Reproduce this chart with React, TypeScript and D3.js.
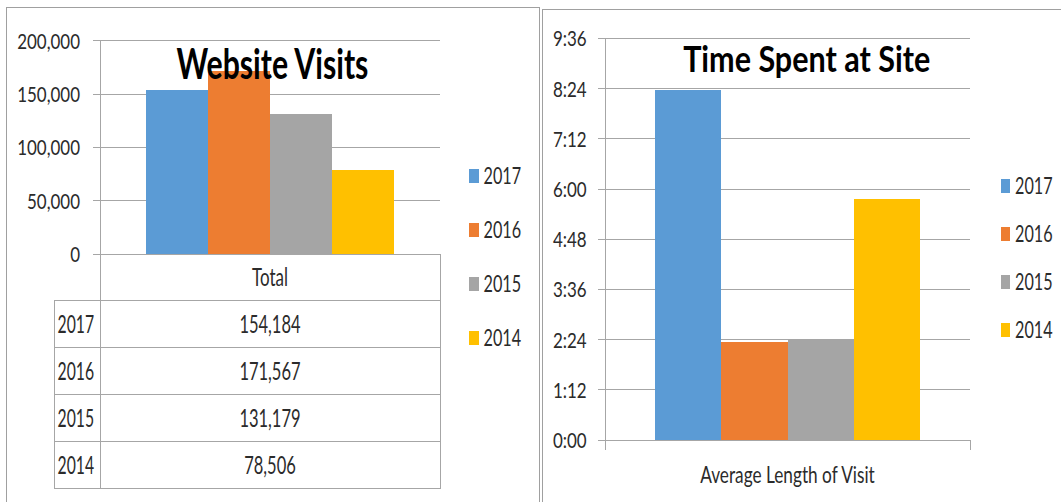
import React from "react";
import * as d3 from "d3";

// ---------- DATA ----------
const years = ["2017", "2016", "2015", "2014"];
const visitCategory = "Total";
const visitValues = [154184, 171567, 131179, 78506];
const visitTicks = [0, 50000, 100000, 150000, 200000];
const timeCategory = "Average Length of Visit";
// average visit length in seconds (m:ss)
const timeValues = [502, 141, 145, 346];
const timeTicks = [0, 72, 144, 216, 288, 360, 432, 504, 576];
const colors = ["#5B9BD5", "#ED7D31", "#A5A5A5", "#FFC000"];
const titleVisits = "Website Visits";
const titleTime = "Time Spent at Site";

const FONT = "Lato, 'Open Sans', sans-serif";
const TXT = "#2b2b2b";
const GRID = "#A6A6A6";
const BORDER = "#A0A0A0";

type TP = {
  x: number;
  y: number;
  sx: number;
  size: number;
  anchor?: "start" | "middle" | "end";
  weight?: string | number;
  fill?: string;
  children: React.ReactNode;
};
const T = ({ x, y, sx, size, anchor = "start", weight = 400, fill = TXT, children }: TP) => (
  <text
    transform={`translate(${x},${y}) scale(${sx},1)`}
    textAnchor={anchor}
    fontSize={size}
    fontWeight={weight}
    fontFamily={FONT}
    fill={fill}
  >
    {children}
  </text>
);

const fmtTime = (s: number) => `${Math.floor(s / 60)}:${String(Math.round(s % 60)).padStart(2, "0")}`;
const fmtNum = d3.format(",");

function seriesScale(x0: number, x1: number) {
  const barW = (x1 - x0) / (years.length + 1.5);
  return d3.scaleBand<string>().domain(years).range([x0 + 0.75 * barW, x1 - 0.75 * barW]).padding(0);
}

function Legend({ x, y0, step }: { x: number; y0: number; step: number }) {
  return (
    <g>
      {years.map((yr, i) => {
        const cy = y0 + i * step;
        return (
          <g key={yr}>
            <rect x={x} y={cy - 7} width={9.5} height={14} fill={colors[i]} />
            <T x={x + 14.5} y={cy + 8} sx={0.72} size={22.5}>
              {yr}
            </T>
          </g>
        );
      })}
    </g>
  );
}

function VisitsChart() {
  const px0 = 100, px1 = 440;
  const y = d3.scaleLinear().domain([0, 200000]).range([254, 40.7]);
  const xCat = d3.scaleBand<string>().domain([visitCategory]).range([px0, px1]);
  const xs = seriesScale(xCat(visitCategory)!, xCat(visitCategory)! + xCat.bandwidth());
  const rowH = 47;
  const headBot = 300.7;
  const tableLeft = 54.3;
  const tableBottom = headBot + rowH * years.length;
  return (
    <g>
      <path d={`M6.5,510 V7.5 H539.5 V510`} fill="none" stroke={BORDER} strokeWidth={1} />
      {visitTicks.map((t) => (
        <g key={t}>
          <line x1={px0 - 7} x2={px1} y1={y(t)} y2={y(t)} stroke={GRID} strokeWidth={1} />
          <T x={80} y={y(t) + 7.9} sx={0.77} size={22} anchor="end">
            {fmtNum(t)}
          </T>
        </g>
      ))}
      <line x1={px0} x2={px0} y1={y(200000)} y2={tableBottom} stroke={GRID} />
      <line x1={px1} x2={px1} y1={y(0)} y2={tableBottom} stroke={GRID} />
      {years.map((yr, i) => (
        <rect
          key={yr}
          x={xs(yr)}
          width={xs.bandwidth()}
          y={y(visitValues[i])}
          height={y(0) - y(visitValues[i])}
          fill={colors[i]}
        />
      ))}
      <T x={272.5} y={78.5} sx={0.72} size={42} anchor="middle" weight={700} fill="#000">
        {titleVisits}
      </T>
      <T x={(px0 + px1) / 2} y={286} sx={0.68} size={25} anchor="middle">
        {visitCategory}
      </T>
      <line x1={tableLeft} x2={px1} y1={headBot} y2={headBot} stroke={GRID} />
      <line x1={tableLeft} x2={tableLeft} y1={headBot} y2={tableBottom} stroke={GRID} />
      {years.map((yr, i) => {
        const top = headBot + i * rowH;
        return (
          <g key={yr}>
            <line x1={tableLeft} x2={px1} y1={top + rowH} y2={top + rowH} stroke={GRID} />
            <T x={57.5} y={top + rowH / 2 + 9} sx={0.63} size={25}>
              {yr}
            </T>
            <T x={(px0 + px1) / 2} y={top + rowH / 2 + 9} sx={0.66} size={25} anchor="middle">
              {fmtNum(visitValues[i])}
            </T>
          </g>
        );
      })}
      <Legend x={469} y0={175.5} step={54} />
    </g>
  );
}

function TimeChart() {
  const px0 = 605, px1 = 970;
  const y = d3.scaleLinear().domain([0, 576]).range([440, 38.5]);
  const xCat = d3.scaleBand<string>().domain([timeCategory]).range([px0, px1]);
  const xs = seriesScale(xCat(timeCategory)!, xCat(timeCategory)! + xCat.bandwidth());
  return (
    <g>
      <path d={`M542.5,510 V9.5 H1070`} fill="none" stroke={BORDER} strokeWidth={1} />
      {timeTicks.map((t) => (
        <g key={t}>
          <line x1={px0 - 7} x2={px1} y1={y(t)} y2={y(t)} stroke={GRID} strokeWidth={1} />
          <T x={586.7} y={y(t) + 7.9} sx={0.77} size={22} anchor="end">
            {fmtTime(t)}
          </T>
        </g>
      ))}
      <line x1={px0} x2={px0} y1={y(576)} y2={y(0) + 10} stroke={GRID} />
      <line x1={px1} x2={px1} y1={y(0)} y2={y(0) + 10} stroke={GRID} />
      {years.map((yr, i) => (
        <rect
          key={yr}
          x={xs(yr)}
          width={xs.bandwidth()}
          y={y(timeValues[i])}
          height={y(0) - y(timeValues[i])}
          fill={colors[i]}
        />
      ))}
      <T x={806.7} y={71.7} sx={0.825} size={37} anchor="middle" weight={700} fill="#000">
        {titleTime}
      </T>
      <T x={(px0 + px1) / 2} y={482.7} sx={0.75} size={23} anchor="middle">
        {timeCategory}
      </T>
      <Legend x={1000.5} y0={186} step={48} />
    </g>
  );
}

export default function App() {
  return (
    <svg
      width={1061}
      height={502}
      style={{ position: "absolute", left: 0, top: 0, background: "#fff" }}
      shapeRendering="crispEdges"
    >
      <rect width={1061} height={502} fill="#fff" />
      <VisitsChart />
      <TimeChart />
    </svg>
  );
}
